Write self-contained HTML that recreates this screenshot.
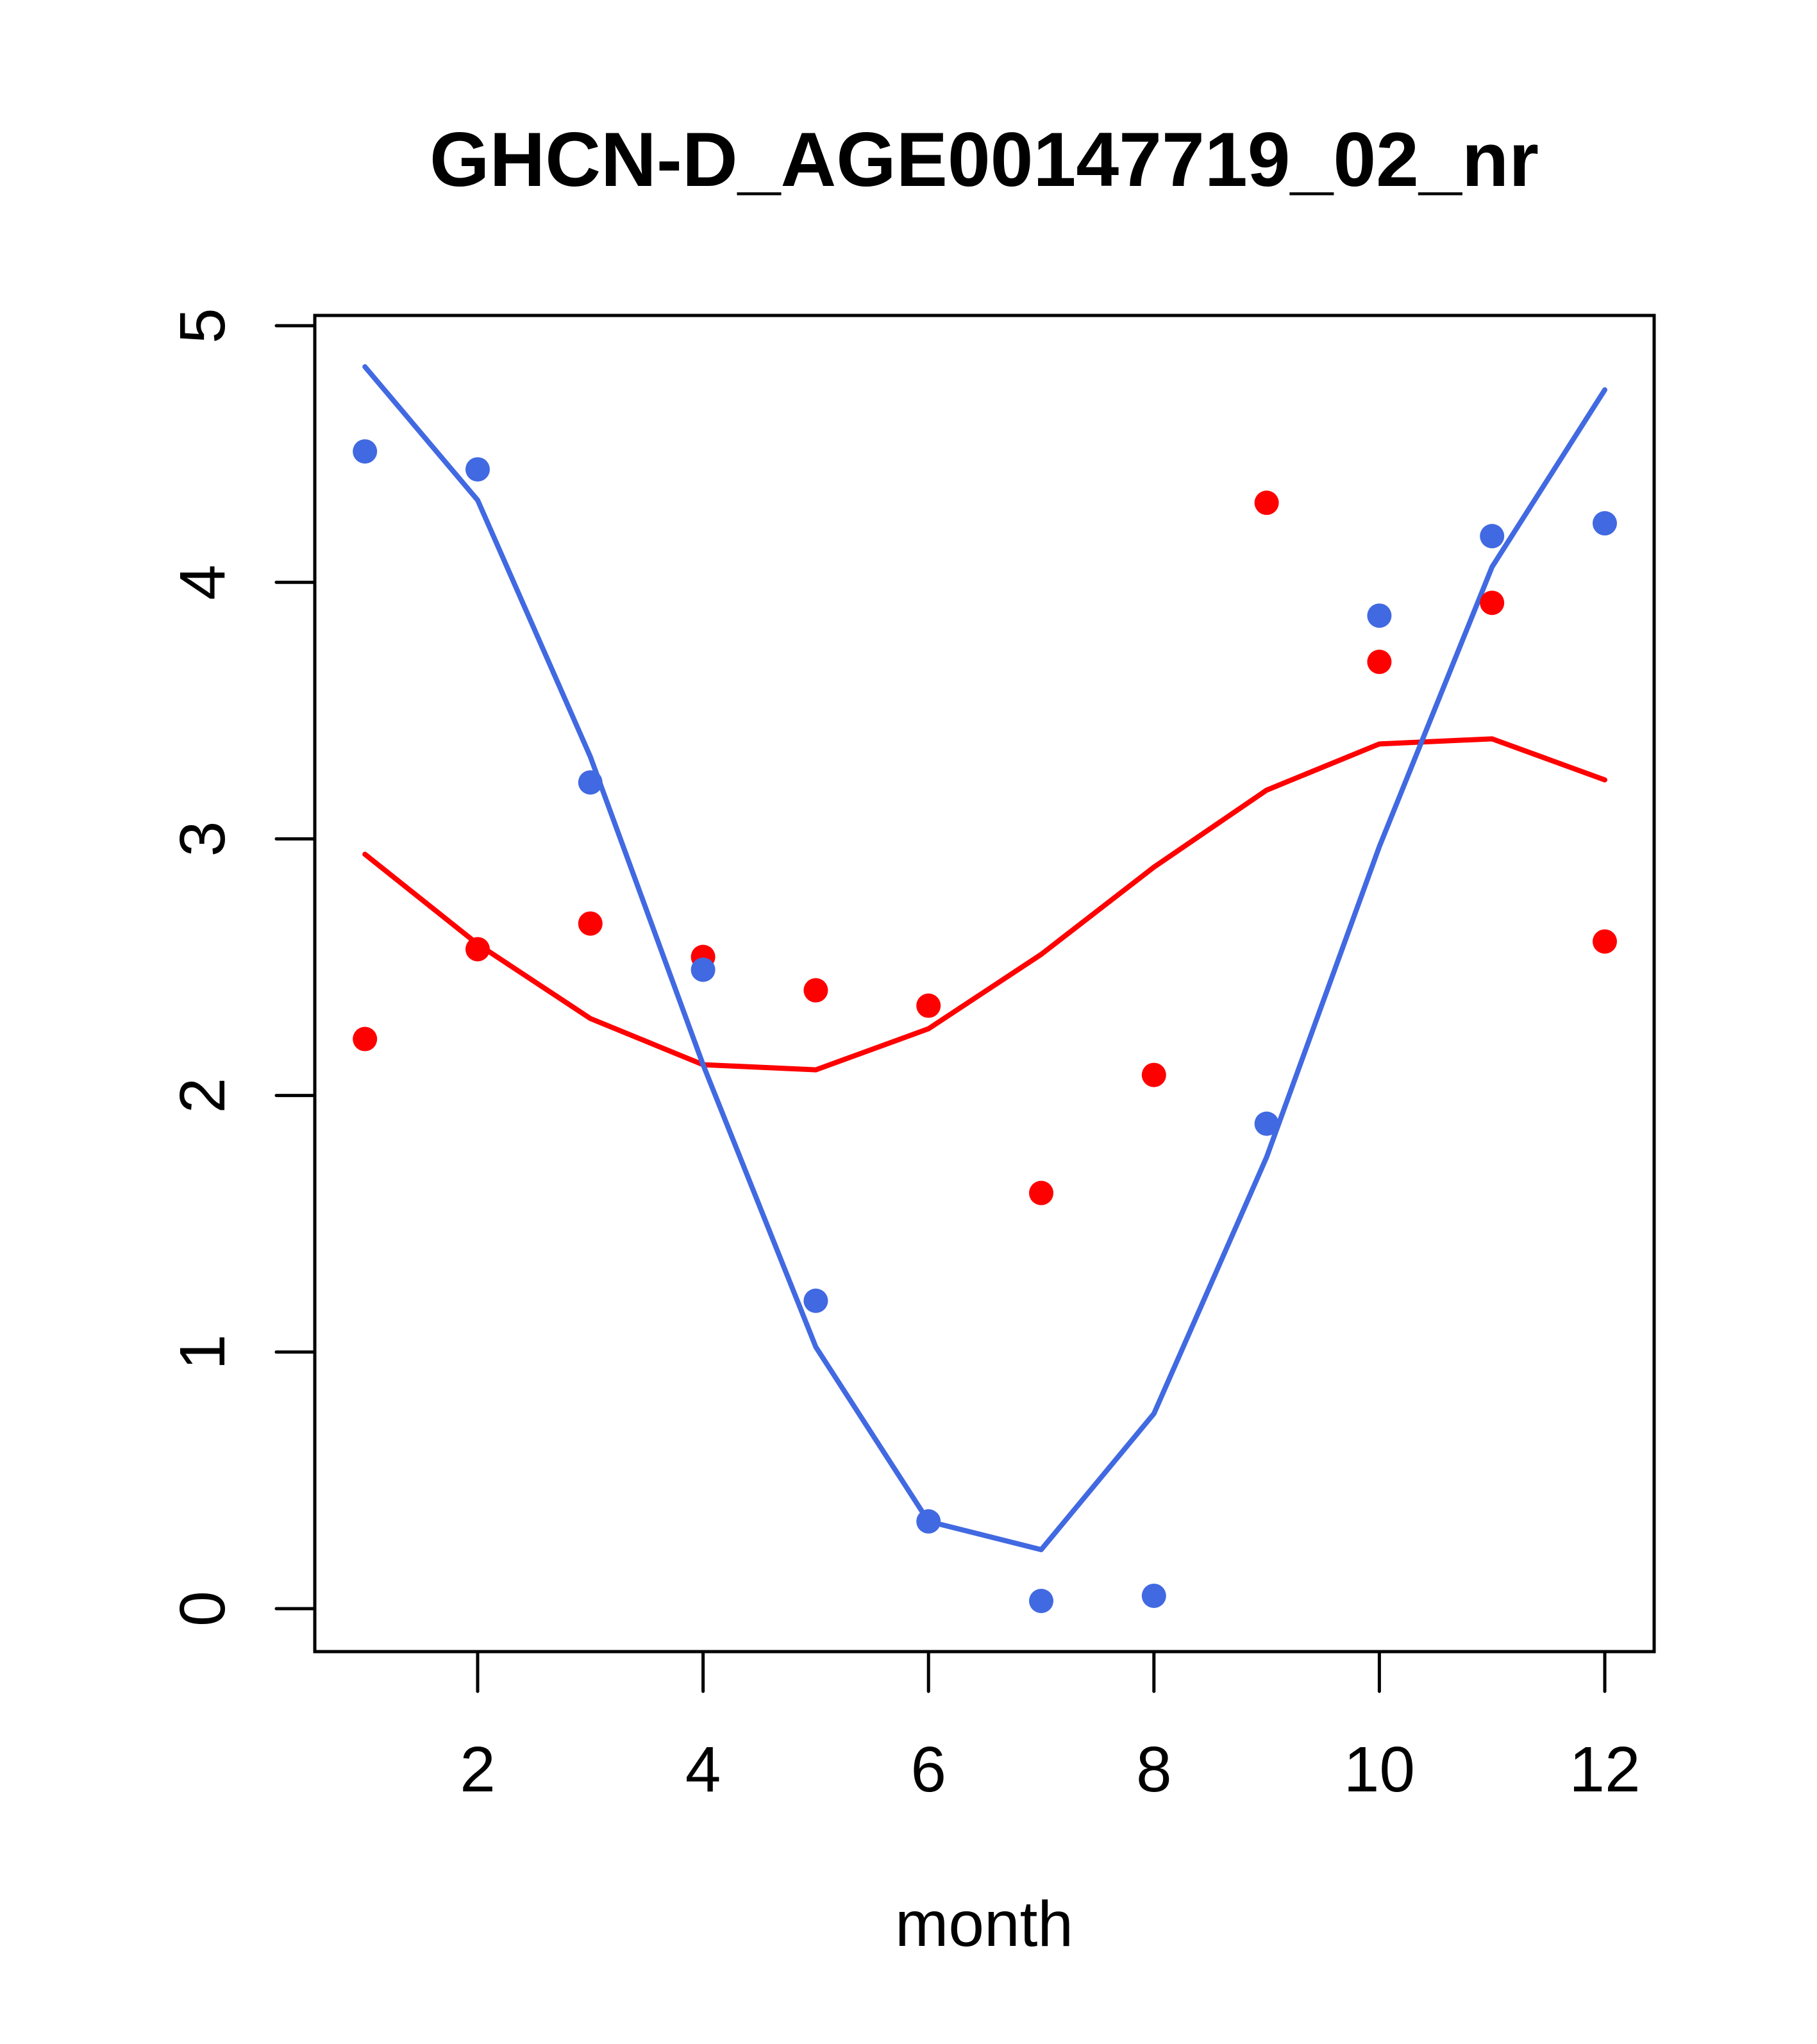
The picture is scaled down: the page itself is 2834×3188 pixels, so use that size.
<!DOCTYPE html>
<html><head><meta charset="utf-8"><style>
html,body{margin:0;padding:0;background:#fff;}
svg{display:block;font-family:"Liberation Sans",Arial,sans-serif;}
</style></head><body>
<svg id="chart" width="2834" height="3188" viewBox="0 0 2834 3188" xmlns="http://www.w3.org/2000/svg">
<rect x="0" y="0" width="2834" height="3188" fill="#fff"/>
<text x="1535" y="290" font-size="120" font-weight="bold" text-anchor="middle" textLength="1730" lengthAdjust="spacingAndGlyphs">GHCN-D_AGE00147719_02_nr</text>
<g id="plot"></g>
<text x="1535" y="3035" font-size="100" text-anchor="middle">month</text>
</svg>
<script>
const months=[1,2,3,4,5,6,7,8,9,10,11,12];
const bluePoints=[4.51,4.44,3.22,2.49,1.20,0.34,0.03,0.05,1.89,3.87,4.18,4.23];
const blueLine=[4.84,4.32,3.32,2.12,1.02,0.34,0.23,0.76,1.76,2.97,4.06,4.75];
const redPoints=[2.22,2.57,2.67,2.54,2.41,2.35,1.62,2.08,4.31,3.69,3.92,2.60];
const redLine=[2.94,2.59,2.30,2.12,2.10,2.26,2.55,2.89,3.19,3.37,3.39,3.23];
const xTicks=[2,4,6,8,10,12];
const yTicks=[0,1,2,3,4,5];

const NS="http://www.w3.org/2000/svg";
const g=document.getElementById('plot');
const X=v=>745+(v-2)*175.8;
const Y=v=>2509-v*400.2;
function mk(tag,attrs){const e=document.createElementNS(NS,tag);for(const k in attrs)e.setAttribute(k,attrs[k]);g.appendChild(e);return e;}

const box=mk('rect',{x:491,y:492,width:2089,height:2084,fill:'none',stroke:'#000','stroke-width':5});



xTicks.forEach(t=>{
  const l=mk('line',{x1:X(t),x2:X(t),y1:2576,y2:2638,stroke:'#000','stroke-width':5,'stroke-linecap':'round'});
  
  
  const tx=mk('text',{x:X(t),y:2794,'font-size':100,'text-anchor':'middle'});
  tx.textContent=t;
  
  
});
yTicks.forEach(t=>{
  const l=mk('line',{x1:431,x2:491,y1:Y(t),y2:Y(t),stroke:'#000','stroke-width':5,'stroke-linecap':'round'});
  
  
  const tx=mk('text',{x:0,y:0,'font-size':100,'text-anchor':'middle',transform:`translate(350,${Y(t)}) rotate(-90)`});
  tx.textContent=t;
  
  
});

function line(vals,color,name){
  const p=mk('polyline',{points:months.map((m,i)=>X(m)+','+Y(vals[i])).join(' '),fill:'none',stroke:color,'stroke-width':8,'stroke-linejoin':'round','stroke-linecap':'round'});
  
  
}
function pts(vals,color,name){
  months.forEach((m,i)=>{
    const c=mk('circle',{cx:X(m),cy:Y(vals[i]),r:19,fill:color});
    
    
  });
}
line(redLine,'#ff0000','red-line');
line(blueLine,'#4169e1','blue-line');
pts(redPoints,'#ff0000','red-point');
pts(bluePoints,'#4169e1','blue-point');
</script>
</body></html>
